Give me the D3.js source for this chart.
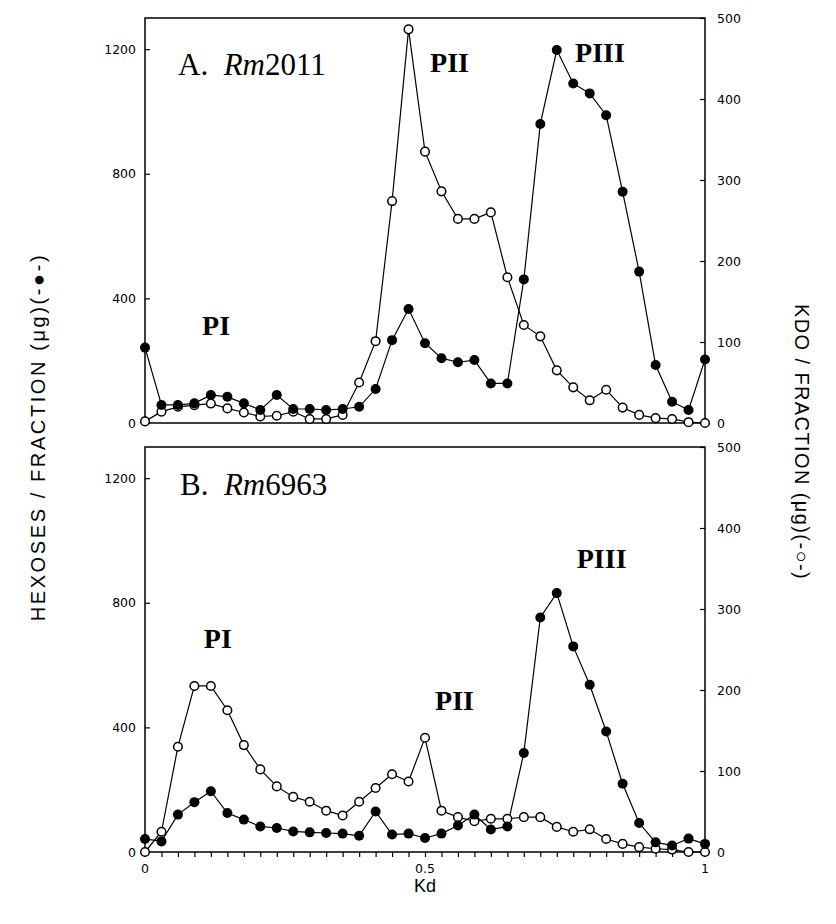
<!DOCTYPE html>
<html>
<head>
<meta charset="utf-8">
<style>
  body { margin: 0; background: #fff; }
  svg { display: block; }
</style>
</head>
<body>
<svg id="chart" width="836" height="924" xmlns="http://www.w3.org/2000/svg"></svg>
<script src="https://cdn.jsdelivr.net/npm/d3@7/dist/d3.min.js"></script>
<script>
// Kd of each collected fraction (35 fractions)
var kd = [0, 0.0294, 0.0588, 0.0882, 0.1176, 0.1471, 0.1765, 0.2059, 0.2353, 0.2647,
  0.2941, 0.3235, 0.3529, 0.3824, 0.4118, 0.4412, 0.4706, 0.5, 0.5294, 0.5588,
  0.5882, 0.6176, 0.6471, 0.6765, 0.7059, 0.7353, 0.7647, 0.7941, 0.8235, 0.8529,
  0.8824, 0.9118, 0.9412, 0.9706, 1];

// panel A, Rm2011
var hexA = [242, 58, 58, 63, 90, 84, 63, 42, 90, 45, 45, 42, 45, 52, 109, 266, 366, 256,
  208, 195, 202, 127, 127, 461, 960, 1197, 1090, 1058, 988, 742, 486, 186, 68, 42, 204];
var kdoA = [2, 14, 20, 22, 24, 18, 13, 8, 9, 14, 5, 5, 10, 50, 101, 274, 486, 335,
  286, 252, 252, 260, 180, 121, 107, 65, 44, 28, 41, 19, 10, 6, 5, 1, 0];

// panel B, Rm6963
var hexB = [42, 34, 120, 160, 195, 125, 104, 82, 77, 66, 63, 61, 59, 52, 130, 56, 59, 45,
  59, 85, 120, 72, 82, 318, 753, 831, 660, 537, 387, 219, 93, 31, 21, 43, 26];
var kdoB = [0, 25, 130, 205, 205, 175, 132, 102, 81, 68, 62, 51, 45, 62, 79, 96, 87, 141,
  51, 43, 38, 41, 41, 43, 43, 31, 25, 28, 16, 10, 6, 4, 3, 0, 0];

var hexTicks = [0, 400, 800, 1200];
var kdoTicks = [0, 100, 200, 300, 400, 500];
var kdTicks = [0, 0.5, 1];

// peak labels, placed in data units (kd, hexoses)
var labelsA = [{t: "PI", kd: 0.102, v: 282}, {t: "PII", kd: 0.509, v: 1127}, {t: "PIII", kd: 0.768, v: 1159}];
var labelsB = [{t: "PI", kd: 0.105, v: 655}, {t: "PII", kd: 0.518, v: 456}, {t: "PIII", kd: 0.771, v: 912}];

var svg = d3.select("#chart");
var x = d3.scaleLinear().domain([0, 1]).range([145, 705]);

function panel(top, bottom, hex, kdo, strain, tag, labels, showX) {
	var yL = d3.scaleLinear().domain([0, 1300]).range([bottom, top]);
	var yR = d3.scaleLinear().domain([0, 500]).range([bottom, top]);
	var g = svg.append("g");

	g.append("rect").attr("x", x(0)).attr("y", top).attr("width", x(1) - x(0)).attr("height", bottom - top)
		.attr("fill", "none").attr("stroke", "#000").attr("stroke-width", 1.5);

	// left axis (hexoses)
	var la = g.append("g").attr("transform", "translate(" + x(0) + ",0)")
		.call(d3.axisRight(yL).tickValues(hexTicks).tickSize(5).tickFormat(""));
	la.select(".domain").remove();
	g.selectAll("text.yl").data(hexTicks).enter().append("text")
		.attr("x", 136).attr("y", function(d){ return yL(d) + 4.5; })
		.attr("text-anchor", "end").attr("font-family", "DejaVu Sans").attr("font-size", 12.5)
		.text(function(d){ return d; });

	// right axis (KDO)
	var ra = g.append("g").attr("transform", "translate(" + x(1) + ",0)")
		.call(d3.axisLeft(yR).tickValues(kdoTicks).tickSize(5).tickFormat(""));
	ra.select(".domain").remove();
	g.selectAll("text.yr").data(kdoTicks).enter().append("text")
		.attr("x", 717).attr("y", function(d){ return yR(d) + 4.5; })
		.attr("font-family", "DejaVu Sans").attr("font-size", 12.5)
		.text(function(d){ return d; });

	if (showX) {
		var xa = g.append("g").attr("transform", "translate(0," + bottom + ")")
			.call(d3.axisBottom(x).tickValues(kd).tickSize(5).tickFormat(""));
		xa.select(".domain").remove();
		g.selectAll("text.xl").data(kdTicks).enter().append("text")
			.attr("x", function(d){ return x(d); }).attr("y", bottom + 21)
			.attr("text-anchor", "middle").attr("font-family", "DejaVu Sans").attr("font-size", 12.5)
			.text(function(d){ return d; });
	}
	g.selectAll(".tick line").attr("stroke", "#000").attr("stroke-width", 1.2);

	var lineL = d3.line().x(function(d, i){ return x(kd[i]); }).y(function(d){ return yL(d); });
	var lineR = d3.line().x(function(d, i){ return x(kd[i]); }).y(function(d){ return yR(d); });

	g.append("path").attr("d", lineR(kdo)).attr("fill", "none").attr("stroke", "#000").attr("stroke-width", 1.2);
	g.append("path").attr("d", lineL(hex)).attr("fill", "none").attr("stroke", "#000").attr("stroke-width", 1.2);

	g.selectAll("circle.kdo").data(kdo).enter().append("circle")
		.attr("cx", function(d, i){ return x(kd[i]); }).attr("cy", function(d){ return yR(d); })
		.attr("r", 4.3).attr("fill", "#fff").attr("stroke", "#000").attr("stroke-width", 1.5);
	g.selectAll("circle.hex").data(hex).enter().append("circle")
		.attr("cx", function(d, i){ return x(kd[i]); }).attr("cy", function(d){ return yL(d); })
		.attr("r", 5).attr("fill", "#000");

	// strain title
	var t = g.append("text").attr("x", x(labels.titleKd)).attr("y", yL(labels.titleV))
		.attr("font-family", "Liberation Serif").attr("font-size", 31);
	t.append("tspan").text(tag + "\u00a0\u00a0");
	t.append("tspan").attr("font-style", "italic").text("Rm");
	t.append("tspan").text(strain);

	g.selectAll("text.pk").data(labels.peaks).enter().append("text")
		.attr("x", function(d){ return x(d.kd); }).attr("y", function(d){ return yL(d.v); })
		.attr("font-family", "Liberation Serif").attr("font-weight", "bold").attr("font-size", 28)
		.text(function(d){ return d.t; });
}

panel(18, 423, hexA, kdoA, "2011", "A.", {titleKd: 0.059, titleV: 1117, peaks: labelsA}, false);
panel(447, 852, hexB, kdoB, "6963", "B.", {titleKd: 0.0625, titleV: 1146, peaks: labelsB}, true);

svg.append("text").attr("transform", "translate(45,437) rotate(-90)")
	.attr("text-anchor", "middle").attr("font-family", "Liberation Sans").attr("font-size", 20)
	.attr("letter-spacing", 2.6)
	.text("HEXOSES / FRACTION (\u03bcg)(-\u25cf-)");
svg.append("text").attr("transform", "translate(795,442) rotate(90)")
	.attr("text-anchor", "middle").attr("font-family", "Liberation Sans").attr("font-size", 20)
	.attr("letter-spacing", 1.4)
	.text("KDO / FRACTION (\u03bcg)(-\u25cb-)");
svg.append("text").attr("x", x(0.5)).attr("y", 892)
	.attr("text-anchor", "middle").attr("font-family", "Liberation Sans").attr("font-size", 18)
	.text("Kd");
</script>
</body>
</html>
